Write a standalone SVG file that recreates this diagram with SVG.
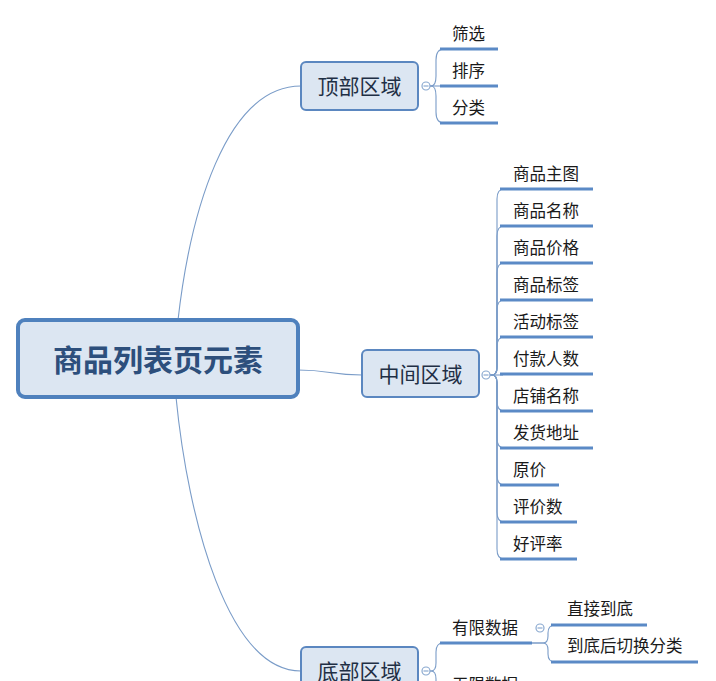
<svg xmlns="http://www.w3.org/2000/svg" width="716" height="681" viewBox="0 0 716 681">
<style>
.bg{fill:#ffffff}
.root{fill:#dce6f2;stroke:#4f81bd;stroke-width:4}
.rootT{font-family:"Noto Sans CJK SC",sans-serif;font-size:30px;font-weight:bold;fill:#2d4f7c}
.node{fill:#dce6f2;stroke:#5b87c0;stroke-width:2}
.nodeT{font-family:"Noto Sans CJK SC",sans-serif;font-size:21px;fill:#1f2f45}
.leafT{font-family:"Noto Sans CJK SC",sans-serif;font-size:16.5px;fill:#1a1a1a}
.ul{stroke:#5b8ac6;stroke-width:3;fill:none}
.cn{stroke:#7a9cc8;stroke-width:1.1;fill:none}
.col{fill:#ffffff;stroke:#8aa9d0;stroke-width:1.2}
.minus{stroke:#8aa9d0;stroke-width:1.2}
</style>
<rect class="bg" x="0" y="0" width="716" height="681"/>
<g id="connectors">
<path class="cn" d="M178,320 C190,215 225,86 301,86"/>
<path class="cn" d="M298,370 C330,370 330,375 362,375"/>
<path class="cn" d="M176,397 C188,520 228,671 301,671"/>
<path class="cn" d="M430,86 H431 Q436,86 436,76 V60 Q436,49 444,49"/>
<path class="cn" d="M430,86 H443"/>
<path class="cn" d="M430,86 H431 Q436,86 436,96 V112 Q436,123 444,123"/>
<path class="cn" d="M490,375 H492 Q497,375 497,367 V199 Q497,189 504,189"/>
<path class="cn" d="M490,375 H492 Q497,375 497,367 V236 Q497,226 504,226"/>
<path class="cn" d="M490,375 H492 Q497,375 497,367 V273 Q497,263 504,263"/>
<path class="cn" d="M490,375 H492 Q497,375 497,367 V310 Q497,300 504,300"/>
<path class="cn" d="M490,375 H492 Q497,375 497,367 V347 Q497,337 504,337"/>
<path class="cn" d="M490,375 H503"/>
<path class="cn" d="M490,375 H492 Q497,375 497,383 V401 Q497,411 504,411"/>
<path class="cn" d="M490,375 H492 Q497,375 497,383 V438 Q497,448 504,448"/>
<path class="cn" d="M490,375 H492 Q497,375 497,383 V475 Q497,485 504,485"/>
<path class="cn" d="M490,375 H492 Q497,375 497,383 V512 Q497,522 504,522"/>
<path class="cn" d="M490,375 H492 Q497,375 497,383 V549 Q497,559 504,559"/>
<path class="cn" d="M430,671 H431 Q436,671 436,663 V652 Q436,643 443,643"/>
<path class="cn" d="M430,671 H431 Q436,671 436,679 V690 Q436,699 443,699"/>
<path class="cn" d="M532,643 H543 Q548,643 548,636 V633 Q548,625 555,625"/>
<path class="cn" d="M532,643 H543 Q548,643 548,650 V654 Q548,662 555,662"/>
</g>
<g id="root">
<rect class="root" x="18" y="320" width="280" height="77" rx="7"/>
<text class="rootT" x="158" y="371" text-anchor="middle">商品列表页元素</text>
</g>
<g id="top">
<rect class="node" x="301" y="62" width="117" height="48" rx="5"/>
<text class="nodeT" x="359.5" y="94" text-anchor="middle">顶部区域</text>
<circle class="col" cx="426" cy="86" r="4"/><line class="minus" x1="423.5" y1="86" x2="428.5" y2="86"/>
</g>
<g id="top-1"><text class="leafT" x="452" y="40">筛选</text><line class="ul" x1="440" y1="49" x2="498" y2="49"/></g>
<g id="top-2"><text class="leafT" x="452" y="77">排序</text><line class="ul" x1="440" y1="86" x2="498" y2="86"/></g>
<g id="top-3"><text class="leafT" x="452" y="114">分类</text><line class="ul" x1="440" y1="123" x2="498" y2="123"/></g>
<g id="middle">
<rect class="node" x="362" y="350" width="117" height="47" rx="5"/>
<text class="nodeT" x="420.5" y="382" text-anchor="middle">中间区域</text>
<circle class="col" cx="486" cy="375" r="4"/><line class="minus" x1="483.5" y1="375" x2="488.5" y2="375"/>
</g>
<g id="mid-1"><text class="leafT" x="513" y="180">商品主图</text><line class="ul" x1="500" y1="189" x2="593" y2="189"/></g>
<g id="mid-2"><text class="leafT" x="513" y="217">商品名称</text><line class="ul" x1="500" y1="226" x2="593" y2="226"/></g>
<g id="mid-3"><text class="leafT" x="513" y="254">商品价格</text><line class="ul" x1="500" y1="263" x2="593" y2="263"/></g>
<g id="mid-4"><text class="leafT" x="513" y="291">商品标签</text><line class="ul" x1="500" y1="300" x2="593" y2="300"/></g>
<g id="mid-5"><text class="leafT" x="513" y="328">活动标签</text><line class="ul" x1="500" y1="337" x2="593" y2="337"/></g>
<g id="mid-6"><text class="leafT" x="513" y="365">付款人数</text><line class="ul" x1="500" y1="374" x2="593" y2="374"/></g>
<g id="mid-7"><text class="leafT" x="513" y="402">店铺名称</text><line class="ul" x1="500" y1="411" x2="593" y2="411"/></g>
<g id="mid-8"><text class="leafT" x="513" y="439">发货地址</text><line class="ul" x1="500" y1="448" x2="593" y2="448"/></g>
<g id="mid-9"><text class="leafT" x="513" y="476">原价</text><line class="ul" x1="500" y1="485" x2="559" y2="485"/></g>
<g id="mid-10"><text class="leafT" x="513" y="513">评价数</text><line class="ul" x1="500" y1="522" x2="577" y2="522"/></g>
<g id="mid-11"><text class="leafT" x="513" y="550">好评率</text><line class="ul" x1="500" y1="559" x2="577" y2="559"/></g>
<g id="bottom">
<rect class="node" x="301" y="647" width="117" height="48" rx="5"/>
<text class="nodeT" x="359.5" y="679" text-anchor="middle">底部区域</text>
<circle class="col" cx="426" cy="671" r="4"/><line class="minus" x1="423.5" y1="671" x2="428.5" y2="671"/>
</g>
<g id="bot-1">
<text class="leafT" x="452" y="634">有限数据</text><line class="ul" x1="440" y1="643" x2="532" y2="643"/>
<circle class="col" cx="540" cy="628" r="4"/><line class="minus" x1="537.5" y1="628" x2="542.5" y2="628"/>
</g>
<g id="bot-1-1"><text class="leafT" x="567" y="615">直接到底</text><line class="ul" x1="551" y1="625" x2="647" y2="625"/></g>
<g id="bot-1-2"><text class="leafT" x="567" y="652">到底后切换分类</text><line class="ul" x1="551" y1="662" x2="698" y2="662"/></g>
<g id="bot-2"><text class="leafT" x="452" y="691">无限数据</text><line class="ul" x1="440" y1="699" x2="532" y2="699"/></g>
</svg>
